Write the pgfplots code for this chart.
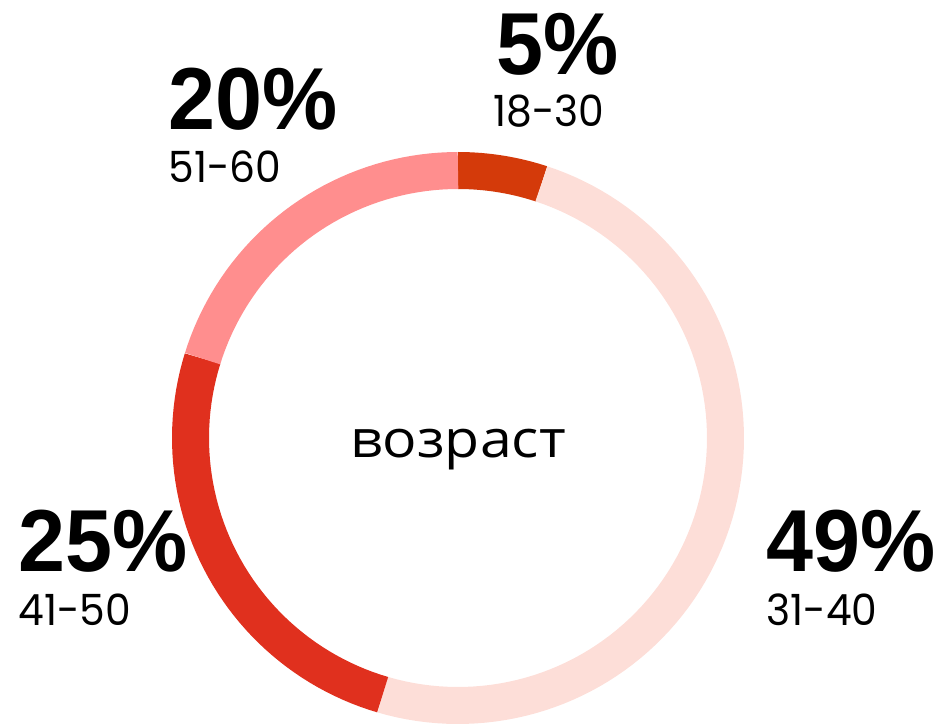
\documentclass[border=0pt]{standalone}
\usepackage{fontspec}
\usepackage{pgfplots}
\pgfplotsset{compat=1.18}
\newfontfamily\numfont{Liberation Sans}
\newfontfamily\lblfont{Poppins}
\newfontfamily\cyrfont{Open Sans}
\definecolor{cA}{HTML}{D43A0A}
\definecolor{cB}{HTML}{FDDED8}
\definecolor{cC}{HTML}{E0301E}
\definecolor{cD}{HTML}{FF8E8E}
% data (percent)
\def\vA{5}  % 18-30
\def\vB{49} % 31-40
\def\vC{25} % 41-50
\def\vD{20} % 51-60
\newcommand\lbl[1]{\lblfont\fontsize{21.5pt}{21.5pt}\selectfont\scalebox{0.95}[1]{#1}}
\newcommand\pct[1]{\numfont\bfseries\fontsize{44pt}{44pt}\selectfont\scalebox{0.96}[1]{#1}}
\begin{document}
\begin{tikzpicture}
\pgfmathsetmacro\tot{\vA+\vB+\vC+\vD}
\pgfmathsetmacro\aA{0}
\pgfmathsetmacro\aB{(360/\tot)*\vA}
\pgfmathsetmacro\aC{(360/\tot)*(\vA+\vB)}
\pgfmathsetmacro\aD{(360/\tot)*(\vA+\vB+\vC)}
\pgfmathsetmacro\aE{360}
\begin{axis}[
  at={(0,0)}, anchor=south west,
  width=469pt, height=362pt, scale only axis,
  xmin=0, xmax=938, ymin=0, ymax=724,
  hide axis, clip=false,
]
\addplot[draw=cA, line width=18.5pt, domain=\aA:\aB, samples=20, variable=\t] ({458+267.5*sin(\t)}, {286+267.5*cos(\t)});
\addplot[draw=cB, line width=18.5pt, domain=\aB:\aC, samples=90, variable=\t] ({458+267.5*sin(\t)}, {286+267.5*cos(\t)});
\addplot[draw=cC, line width=18.5pt, domain=\aC:\aD, samples=50, variable=\t] ({458+267.5*sin(\t)}, {286+267.5*cos(\t)});
\addplot[draw=cD, line width=18.5pt, domain=\aD:\aE, samples=40, variable=\t] ({458+267.5*sin(\t)}, {286+267.5*cos(\t)});
% labels
\node[anchor=base west, inner sep=0] at (axis cs:496,649) {\pct{5\%}};
\node[anchor=base west, inner sep=0] at (axis cs:493,597) {\lbl{18-30}};
\node[anchor=base west, inner sep=0] at (axis cs:168,594) {\pct{20\%}};
\node[anchor=base west, inner sep=0] at (axis cs:168,541) {\lbl{51-60}};
\node[anchor=base west, inner sep=0] at (axis cs:18,153) {\pct{25\%}};
\node[anchor=base west, inner sep=0] at (axis cs:18,99) {\lbl{41-50}};
\node[anchor=base west, inner sep=0] at (axis cs:766,153) {\pct{49\%}};
\node[anchor=base west, inner sep=0] at (axis cs:766,99) {\lbl{31-40}};
\node[anchor=base, inner sep=0] at (axis cs:458,266) {\cyrfont\fontsize{26pt}{26pt}\selectfont\scalebox{1.1}[1]{возраст}};
\end{axis}
\pgfresetboundingbox
\useasboundingbox (0,0) rectangle (469pt,362pt);
\end{tikzpicture}
\end{document}
